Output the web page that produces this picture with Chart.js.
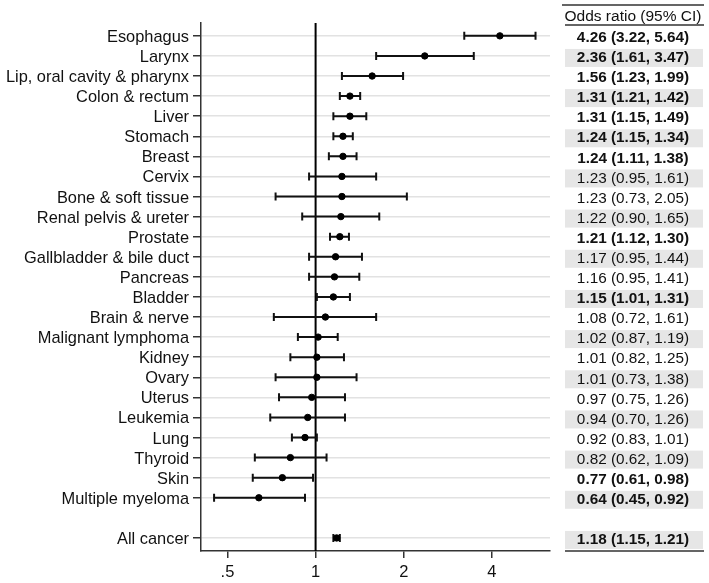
<!DOCTYPE html>
<html>
<head>
<meta charset="utf-8">
<script src="https://cdn.jsdelivr.net/npm/chart.js@4.4.1/dist/chart.umd.min.js"></script>
<style>
  body { margin: 0; background: #fff; }
</style>
</head>
<body>
<canvas id="forest" width="709" height="583"></canvas>
<script>
// cancer sites, top to bottom ("All cancer" is the summary row at the end)
const sites = ['Esophagus', 'Larynx', 'Lip, oral cavity & pharynx', 'Colon & rectum', 'Liver',
  'Stomach', 'Breast', 'Cervix', 'Bone & soft tissue', 'Renal pelvis & ureter', 'Prostate',
  'Gallbladder & bile duct', 'Pancreas', 'Bladder', 'Brain & nerve', 'Malignant lymphoma',
  'Kidney', 'Ovary', 'Uterus', 'Leukemia', 'Lung', 'Thyroid', 'Skin', 'Multiple myeloma',
  'All cancer'];
const oddsRatio = [4.26, 2.36, 1.56, 1.31, 1.31, 1.24, 1.24, 1.23, 1.23, 1.22, 1.21, 1.17, 1.16,
  1.15, 1.08, 1.02, 1.01, 1.01, 0.97, 0.94, 0.92, 0.82, 0.77, 0.64, 1.18];
const ciLow = [3.22, 1.61, 1.23, 1.21, 1.15, 1.15, 1.11, 0.95, 0.73, 0.90, 1.12, 0.95, 0.95,
  1.01, 0.72, 0.87, 0.82, 0.73, 0.75, 0.70, 0.83, 0.62, 0.61, 0.45, 1.15];
const ciHigh = [5.64, 3.47, 1.99, 1.42, 1.49, 1.34, 1.38, 1.61, 2.05, 1.65, 1.30, 1.44, 1.41,
  1.31, 1.61, 1.19, 1.25, 1.38, 1.26, 1.26, 1.01, 1.09, 0.98, 0.92, 1.21];
const xTicks = [0.5, 1, 2, 4];
const xTickLabels = ['.5', '1', '2', '4'];
const tableTitle = 'Odds ratio (95% CI)';

const FONT = "'Liberation Sans', Arial, Helvetica, sans-serif";
const INK = '#111';

// row slot on the y axis: leave one empty slot before the summary row
function rowOf(i) {
  return i < sites.length - 1 ? i : i + 1;
}
function significant(i) {
  return ciLow[i] > 1 || ciHigh[i] < 1;
}

const points = sites.map((s, i) => ({ x: oddsRatio[i], y: rowOf(i) }));

const forestPlugin = {
  id: 'forest',
  beforeDatasetsDraw(chart) {
    const ctx = chart.ctx;
    const x = chart.scales.x;
    const y = chart.scales.y;
    const area = chart.chartArea;

    // reference line at OR = 1
    ctx.save();
    ctx.strokeStyle = '#000';
    ctx.lineWidth = 2;
    ctx.beginPath();
    const x1 = x.getPixelForValue(1);
    ctx.moveTo(x1, area.top);
    ctx.lineTo(x1, area.bottom);
    ctx.stroke();

    // confidence interval bars with caps
    ctx.strokeStyle = '#111';
    ctx.lineWidth = 2;
    sites.forEach((s, i) => {
      const py = y.getPixelForValue(rowOf(i));
      const a = x.getPixelForValue(ciLow[i]);
      const b = x.getPixelForValue(ciHigh[i]);
      ctx.beginPath();
      ctx.moveTo(a, py);
      ctx.lineTo(b, py);
      ctx.moveTo(a, py - 4);
      ctx.lineTo(a, py + 4);
      ctx.moveTo(b, py - 4);
      ctx.lineTo(b, py + 4);
      ctx.stroke();
    });
    ctx.restore();
  },
  afterDraw(chart) {
    const ctx = chart.ctx;
    const y = chart.scales.y;
    const area = chart.chartArea;
    const left = 565, right = 704, mid = 633;

    ctx.save();
    ctx.strokeStyle = '#333';
    ctx.lineWidth = 1.5;
    ctx.beginPath();
    ctx.moveTo(562, 5);
    ctx.lineTo(right, 5);
    ctx.moveTo(left, 25);
    ctx.lineTo(right, 25);
    ctx.moveTo(left, area.bottom);
    ctx.lineTo(right, area.bottom);
    ctx.stroke();

    ctx.fillStyle = INK;
    ctx.textAlign = 'center';
    ctx.textBaseline = 'middle';
    ctx.font = '15.5px ' + FONT;
    ctx.fillText(tableTitle, mid, 17);

    sites.forEach((s, i) => {
      const r = rowOf(i);
      const py = y.getPixelForValue(r);
      if (r % 2 === 1) {
        ctx.fillStyle = '#e6e6e6';
        ctx.fillRect(left, py - 7, right - left - 1, 18);
      }
      ctx.fillStyle = INK;
      ctx.font = (significant(i) ? 'bold ' : '') + '15.3px ' + FONT;
      const txt = oddsRatio[i].toFixed(2) + ' (' + ciLow[i].toFixed(2) + ', ' + ciHigh[i].toFixed(2) + ')';
      ctx.fillText(txt, mid, py + 2);
    });
    ctx.restore();
  }
};

new Chart(document.getElementById('forest'), {
  type: 'scatter',
  data: {
    datasets: [{
      data: points,
      backgroundColor: '#000',
      borderColor: '#000',
      pointRadius: 3.2,
      pointHoverRadius: 3.2
    }]
  },
  options: {
    responsive: false,
    animation: false,
    layout: { padding: { left: 0, top: 23, right: 159, bottom: 0 } },
    plugins: { legend: { display: false }, tooltip: { enabled: false } },
    scales: {
      x: {
        type: 'logarithmic',
        min: 0.406,
        max: 6.32,
        afterBuildTicks: (scale) => { scale.ticks = xTicks.map(v => ({ value: v })); },
        afterFit: (scale) => { scale.height = 32; },
        border: { display: true, color: '#333', width: 1.5 },
        grid: { drawOnChartArea: false, drawTicks: true, tickLength: 7, tickColor: '#333', lineWidth: 1.5 },
        ticks: {
          autoSkip: false,
          maxRotation: 0,
          padding: 5,
          color: INK,
          font: { family: FONT, size: 16.5 },
          callback: (v, i) => xTickLabels[i]
        }
      },
      y: {
        type: 'linear',
        reverse: true,
        min: -0.64,
        max: 25.65,
        afterBuildTicks: (scale) => { scale.ticks = sites.map((s, i) => ({ value: rowOf(i) })); },
        afterFit: (scale) => { scale.width = 201; },
        border: { display: true, color: '#333', width: 1.5 },
        grid: { color: '#e2e2e2', lineWidth: 1.5, tickLength: 8, tickColor: '#333' },
        ticks: {
          autoSkip: false,
          padding: 4,
          labelOffset: 1.5,
          color: INK,
          font: { family: FONT, size: 16.4 },
          callback: (v) => {
            const i = sites.findIndex((s, k) => rowOf(k) === v);
            return i >= 0 ? sites[i] : '';
          }
        }
      }
    }
  },
  plugins: [forestPlugin]
});
</script>
</body>
</html>
